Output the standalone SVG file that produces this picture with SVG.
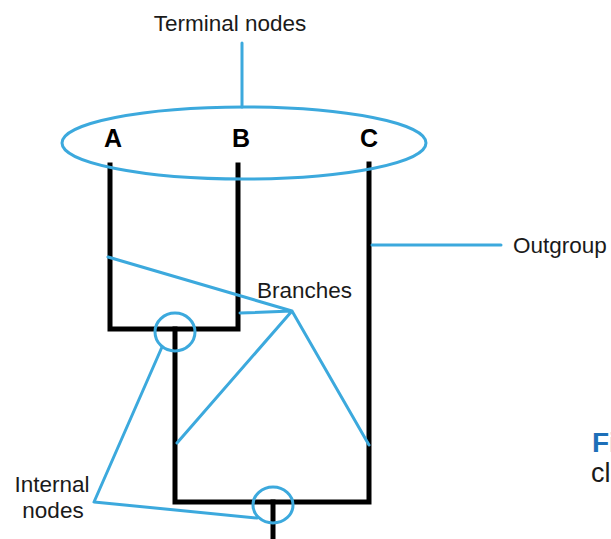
<svg xmlns="http://www.w3.org/2000/svg" width="611" height="539" viewBox="0 0 611 539">
  <style>
    .lbl { font-family: "Liberation Sans", Arial, sans-serif; font-size: 22.5px; fill: #1a1a1a; }
    .tip { font-family: "Liberation Sans", Arial, sans-serif; font-size: 25px; font-weight: bold; fill: #000; text-anchor: middle; }
    .tree { fill: none; stroke: #000; stroke-width: 5; stroke-linecap: square; stroke-linejoin: miter; }
    .call { fill: none; stroke: #3ca9dd; stroke-width: 3; stroke-linecap: round; stroke-linejoin: round; }
  </style>
  <rect width="611" height="539" fill="#fff"/>

  <!-- tree skeleton -->
  <g id="tree">
    <path class="tree" d="M110,165 V329 H238 V165"/>
    <path class="tree" d="M175,329 V502 H369 V164"/>
    <path class="tree" d="M273,502 V541"/>
  </g>

  <!-- taxa -->
  <g id="taxon-A"><text class="tip" x="113" y="147">A</text></g>
  <g id="taxon-B"><text class="tip" x="241" y="147">B</text></g>
  <g id="taxon-C"><text class="tip" x="369" y="147">C</text></g>

  <!-- callouts -->
  <g id="terminal-nodes">
    <ellipse class="call" cx="244" cy="143" rx="182" ry="36"/>
    <text class="lbl" x="230" y="31" text-anchor="middle">Terminal nodes</text>
  </g>
  <g id="outgroup">
    <text class="lbl" x="513" y="253">Outgroup</text>
  </g>
  <g id="branches">
    <text class="lbl" x="257" y="298">Branches</text>
  </g>
  <g id="internal-nodes">
    <ellipse class="call" cx="175" cy="332" rx="20" ry="19"/>
    <ellipse class="call" cx="273" cy="505" rx="20" ry="18"/>
    <text class="lbl" x="52" y="492" text-anchor="middle">Internal</text>
    <text class="lbl" x="53" y="518" text-anchor="middle">nodes</text>
  </g>

  <!-- pointer lines -->
  <g id="connectors">
    <path class="call" d="M242,43 V107"/>
    <path class="call" d="M372,245 H501"/>
    <path class="call" d="M108,257 L292,311 M240,313 L292,311 M292,311 L177,443 M292,311 L369,445"/>
    <path class="call" d="M162,347 L94,502 L257,518"/>
  </g>

  <!-- caption fragments running off the right edge -->
  <g id="caption">
    <text x="592" y="452" font-family="'Liberation Sans', Arial, sans-serif" font-size="28" font-weight="bold" fill="#1d6fb8">Fi</text>
    <text x="591" y="482" font-family="'Liberation Sans', Arial, sans-serif" font-size="27" fill="#1a1a1a">cl</text>
  </g>
</svg>
